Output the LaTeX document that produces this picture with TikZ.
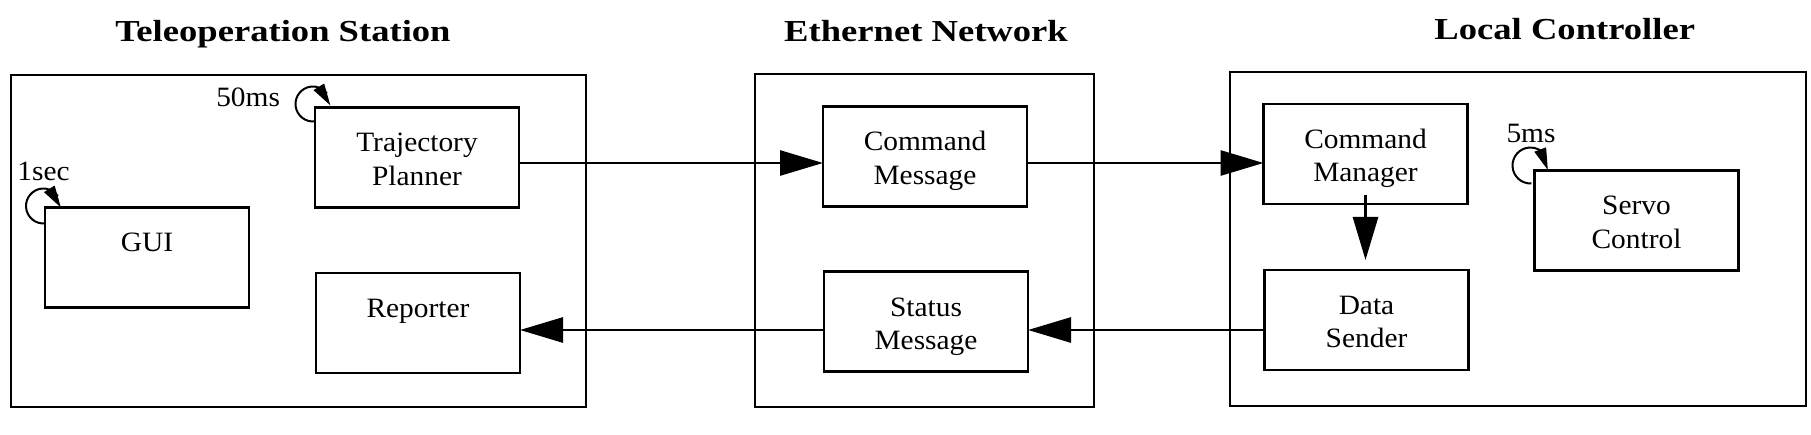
\documentclass[tikz,border=0pt]{standalone}
\usepackage{fontspec}
\setmainfont{Liberation Serif}[FakeStretch=1.05]
\newfontfamily\titlefamily{Liberation Serif}[FakeStretch=1.2]
\usetikzlibrary{arrows.meta,bending,calc}
\begin{document}
\begin{tikzpicture}[x=1pt,y=1pt,
  every node/.style={inner sep=0pt, outer sep=0pt},
  panel/.style={draw, line width=2.6pt},
  proc/.style={draw, line width=2.8pt, minimum width=204pt, minimum height=100pt,
    align=center, font=\fontsize{28pt}{33.4pt}\selectfont,
    text height=20pt, text depth=31pt},
  proctwo/.style={proc, text height=60pt, text depth=4.2pt},
  ttl/.style={font=\titlefamily\bfseries\fontsize{30.5pt}{36pt}\selectfont, anchor=base},
  lbl/.style={font=\fontsize{28pt}{33pt}\selectfont, anchor=base},
  conn/.style={line width=2.8pt, -{Triangle[length=43pt,width=25pt]}},
  cyc/.style={line width=2pt, -{Triangle[length=22pt,width=12pt]}}
]
\useasboundingbox (0,0) rectangle (1811,-435);

% containers
\node[panel, minimum width=575pt, minimum height=332pt] (ts) at (298.5,-241) {};
\node[panel, minimum width=339pt, minimum height=333pt] (en) at (924.5,-240.5) {};
\node[panel, minimum width=576pt, minimum height=334pt] (lc) at (1518,-239) {};

% titles
\node[ttl] (tts) at (283,-41.5) {Teleoperation Station};
\node[ttl] (ten) at (926,-41.5) {Ethernet Network};
\node[ttl] (tlc) at (1564.7,-39.5) {Local Controller};

% processes
\node[proctwo] (tp) at (417,-157.5) {Trajectory\\Planner};
\node[proc] (gui) at (147,-257.5) {GUI};
\node[proc] (rep) at (418,-323) {Reporter};
\node[proctwo] (cmsg) at (925,-156.5) {Command\\Message};
\node[proctwo] (smsg) at (926,-321.5) {Status\\Message};
\node[proctwo] (cmgr) at (1365.5,-154) {Command\\Manager};
\node[proctwo] (ds) at (1366.5,-320) {Data\\Sender};
\node[proctwo] (servo) at (1636.5,-220.5) {Servo\\Control};

% period labels
\node[lbl, anchor=base east] (p50) at ($(tp.north west)+(-35,0.5)$) {50ms};
\node[lbl] (p1) at ($(gui.north west)+(-1.5,27)$) {1sec};
\node[lbl] (p5) at ($(servo.north west)+(-3.5,28)$) {5ms};

% cyclic loops
\draw[cyc] ($(tp.north west)+(-2,3.5)$) ++(-83:17.5) arc[start angle=-83, end angle=-365, radius=17.5];
\draw[cyc] ($(gui.north west)+(-1.5,1.5)$) ++(-85:17.5) arc[start angle=-85, end angle=-365, radius=17.5];
\draw[cyc] ($(servo.north west)+(-4,5)$) ++(-87:18) arc[start angle=-87, end angle=-375, radius=18];

% connectors
\draw[conn] ([yshift=-5.5pt]tp.east) -- ([yshift=-5.5pt]tp.east -| cmsg.west);
\draw[conn] ([yshift=-6.5pt]cmsg.east) -- ([yshift=-6.5pt]cmsg.east -| cmgr.west);
\draw[conn] ([yshift=-10pt]ds.west) -- ([yshift=-10pt]ds.west -| smsg.east);
\draw[conn] ([yshift=-8.5pt]smsg.west) -- ([yshift=-8.5pt]smsg.west -| rep.east);
\draw[conn] ([yshift=9pt]cmgr.south) -- ([yshift=10pt]cmgr.south |- ds.north);
\end{tikzpicture}
\end{document}
